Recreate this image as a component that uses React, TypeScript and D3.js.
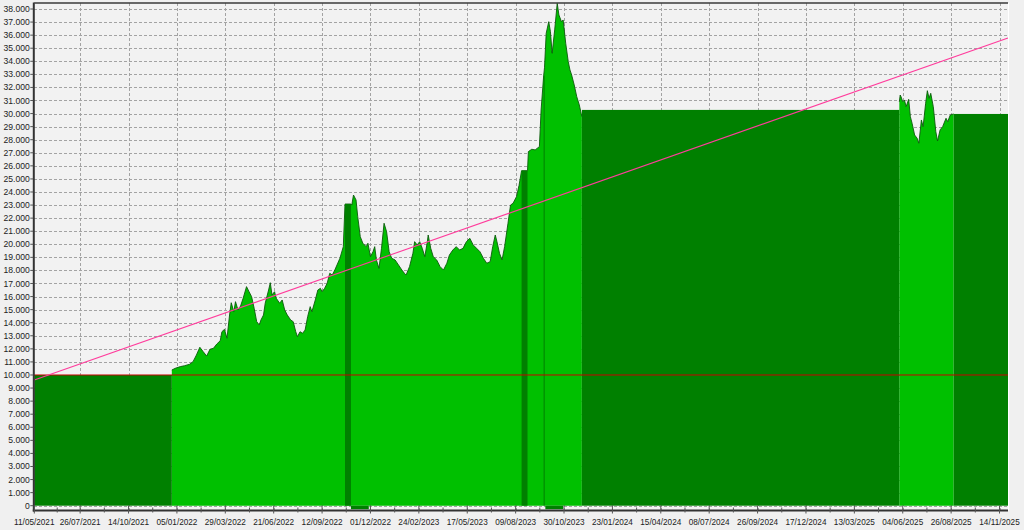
import React from "react";
import * as d3 from "d3";

// ---- data ----
const xTickLabels = [
  "11/05/2021", "26/07/2021", "14/10/2021", "05/01/2022", "29/03/2022", "21/06/2022",
  "12/09/2022", "01/12/2022", "24/02/2023", "17/05/2023", "09/08/2023", "30/10/2023",
  "23/01/2024", "15/04/2024", "08/07/2024", "26/09/2024", "17/12/2024", "13/03/2025",
  "04/06/2025", "26/08/2025", "14/11/2025",
];
// trading-day index of each date label
const xTickIdx = [0, 54, 111, 168, 225, 282, 339, 396, 453, 510, 567, 624, 681, 738, 795, 852, 909, 966, 1023, 1080, 1137];
const totalBars = 1147;

const yTickValues = d3.range(0, 39);

// flat (out of market) periods: dark green
const flatStart = [0, 366, 574, 600, 645, 1083];
const flatEnd = [162, 373, 581, 601, 1019, 1147];
const flatValue = [10.0, 23.08, 25.63, 32.9, 30.28, 29.97];

// small negative bands below zero
const negStart = [373, 602];
const negEnd = [394, 623];
const negValue = [-0.27, -0.27];

// equity curve, first in-market stretch
const curve1Idx = [162, 166, 172, 177, 183, 187, 191, 195, 199, 203, 207, 211, 215, 219, 221, 224, 227, 230, 232, 235, 237, 240, 243, 246, 250, 253, 256, 259, 262, 265, 267, 270, 272, 276, 278, 280, 283, 285, 289, 292, 295, 298, 302, 305, 308, 310, 313, 316, 319, 322, 325, 327, 331, 334, 337, 339, 342, 345, 348, 351, 354, 360, 364, 366, 373, 374, 376, 379, 381, 384, 387, 391, 393, 396, 399, 401, 403, 406, 409, 412, 415, 418, 421, 425, 429, 433, 436, 438, 442, 446, 448, 451, 454, 457, 460, 463, 464, 467, 470, 474, 478, 482, 486, 489, 493, 497, 501, 505, 509, 513, 517, 521, 525, 529, 533, 537, 540, 543, 545, 548, 551, 554, 558, 561, 564, 568, 571, 574, 581, 582, 586, 590, 595, 597, 600, 601, 603, 606, 608, 610, 613, 616, 618, 621, 623, 626, 629, 631, 633, 636, 639, 642, 645];
const curve1Val = [10.38, 10.51, 10.64, 10.71, 10.82, 11.02, 11.53, 12.12, 11.78, 11.45, 11.97, 12.04, 12.37, 12.62, 13.31, 13.49, 12.81, 14.59, 15.53, 14.84, 15.61, 14.97, 15.28, 15.87, 16.76, 16.37, 15.99, 15.10, 14.08, 13.83, 14.21, 14.59, 15.49, 16.50, 17.06, 16.12, 16.37, 15.87, 15.49, 15.74, 14.97, 14.59, 14.21, 14.08, 13.31, 12.93, 13.31, 13.19, 13.44, 14.46, 15.23, 14.84, 15.74, 16.50, 16.63, 16.37, 16.63, 17.02, 17.78, 17.65, 18.03, 18.93, 19.82, 23.08, 23.08, 23.0, 23.77, 23.39, 22.11, 20.58, 20.08, 19.82, 20.08, 19.05, 19.43, 19.82, 18.80, 18.16, 19.69, 21.61, 20.96, 19.43, 18.93, 18.80, 18.42, 18.03, 17.78, 17.65, 18.29, 19.31, 20.20, 19.95, 20.20, 19.69, 19.05, 20.20, 20.71, 19.69, 19.05, 18.80, 18.29, 18.03, 18.55, 19.18, 19.56, 19.82, 19.56, 19.69, 20.20, 20.46, 19.95, 19.69, 19.43, 18.93, 18.55, 18.67, 19.82, 20.71, 20.20, 19.31, 18.80, 19.82, 21.61, 23.0, 23.14, 23.64, 24.5, 25.63, 25.63, 27.09, 27.27, 27.22, 27.47, 30.28, 32.88, 33.5, 36.14, 37.03, 36.27, 34.61, 36.40, 38.44, 37.54, 37.03, 37.16, 35.38, 33.97, 33.34, 32.95, 32.19, 31.29, 30.66, 29.76];

// equity curve, second in-market stretch
const curve2Idx = [1019, 1020, 1021, 1023, 1025, 1027, 1030, 1032, 1034, 1037, 1040, 1042, 1045, 1047, 1050, 1052, 1054, 1056, 1059, 1062, 1064, 1067, 1070, 1074, 1076, 1079, 1083];
const curve2Val = [30.9, 31.42, 31.29, 30.91, 31.04, 30.53, 31.09, 29.76, 29.26, 28.36, 28.11, 27.73, 29.51, 29.0, 30.79, 31.75, 31.17, 31.55, 30.53, 28.61, 27.9, 28.75, 29.0, 29.64, 29.38, 29.89, 29.97];

const baseLevel = 10.0;
const trendStart = 9.62;
const trendEnd = 35.78;

// ---- layout ----
const W = 1024;
const H = 530;
const plotLeft = 34.3;
const plotRight = 1008;
const plotTop = 3;
const plotBottom = 510.5;

const FONT = "'Liberation Sans', Arial, sans-serif";

export default function App() {
  const x = d3.scaleLinear().domain([0, totalBars]).range([plotLeft, plotRight]);
  const y = d3.scaleLinear().domain([0, 38]).range([505.7, 9.0]);

  const curve1 = curve1Idx.map((i, k) => ({ i, v: curve1Val[k] }));
  const curve2 = curve2Idx.map((i, k) => ({ i, v: curve2Val[k] }));

  const area = d3
    .area<{ i: number; v: number }>()
    .x((d) => x(d.i))
    .y0(y(0))
    .y1((d) => y(d.v));
  const line = d3
    .line<{ i: number; v: number }>()
    .x((d) => x(d.i))
    .y((d) => y(d.v));

  const minorTicks: number[] = [];
  for (let k = 0; k < xTickIdx.length - 1; k++) minorTicks.push((xTickIdx[k] + xTickIdx[k + 1]) / 2);

  const fmt = (v: number) => (v === 0 ? "0" : `${v}.000`);

  return (
    <svg
      width={W}
      height={H}
      style={{ position: "absolute", left: 0, top: 0, display: "block" }}
      xmlns="http://www.w3.org/2000/svg"
    >
      <rect x={0} y={0} width={W} height={H} fill="#f0f0f0" />
      <rect x={plotLeft} y={plotTop} width={plotRight - plotLeft} height={plotBottom - plotTop} fill="#f2f2f2" />

      {/* grid */}
      <g stroke="#a3a3a3" strokeWidth={1} strokeDasharray="3,2" shapeRendering="crispEdges">
        {yTickValues.map((v) => (
          <line key={"gy" + v} x1={plotLeft} x2={plotRight} y1={Math.round(y(v)) + 0.5} y2={Math.round(y(v)) + 0.5} />
        ))}
        {xTickIdx.slice(1).map((i) => (
          <line key={"gx" + i} x1={Math.round(x(i)) + 0.5} x2={Math.round(x(i)) + 0.5} y1={plotTop} y2={plotBottom} />
        ))}
      </g>

      {/* in-market equity areas */}
      <path d={area(curve1) || ""} fill="#00c000" />
      <path d={area(curve2) || ""} fill="#00c000" />
      <path d={line(curve1) || ""} fill="none" stroke="#0b5a0b" strokeWidth={0.9} />
      <path d={line(curve2) || ""} fill="none" stroke="#0b5a0b" strokeWidth={0.9} />

      {/* flat periods */}
      {flatStart.map((s, k) => (
        <rect
          key={"f" + k}
          x={x(s)}
          y={y(flatValue[k])}
          width={Math.max(1, x(flatEnd[k]) - x(s))}
          height={y(0) - y(flatValue[k])}
          fill="#008000"
        />
      ))}
      {negStart.map((s, k) => (
        <rect
          key={"n" + k}
          x={x(s)}
          y={y(0)}
          width={x(negEnd[k]) - x(s)}
          height={y(negValue[k]) - y(0)}
          fill="#008000"
        />
      ))}

      {/* base level line */}
      <line x1={plotLeft} x2={plotRight} y1={y(baseLevel)} y2={y(baseLevel)} stroke="#c80000" strokeWidth={1} />

      {/* trend line */}
      <line
        x1={x(0)}
        x2={x(totalBars)}
        y1={y(trendStart)}
        y2={y(trendEnd)}
        stroke="#ff3c9c"
        strokeWidth={1.1}
      />

      {/* frame */}
      <line x1={plotLeft} x2={plotRight} y1={plotTop} y2={plotTop} stroke="#3a3a3a" strokeWidth={1.5} />
      <line x1={plotRight + 0.5} x2={plotRight + 0.5} y1={plotTop} y2={plotBottom} stroke="#ffffff" strokeWidth={1} />
      <line x1={plotLeft - 0.5} x2={plotLeft - 0.5} y1={plotTop - 0.5} y2={plotBottom + 1} stroke="#333" strokeWidth={2} />
      <line x1={plotLeft - 1.5} x2={plotRight} y1={plotBottom} y2={plotBottom} stroke="#333" strokeWidth={2} />

      {/* y axis */}
      <g fontFamily={FONT} fontSize={8.6} fill="#222">
        {yTickValues.map((v) => (
          <g key={"yt" + v}>
            <line x1={plotLeft - 4} x2={plotLeft - 1} y1={y(v)} y2={y(v)} stroke="#555" strokeWidth={1} />
            <text x={plotLeft - 4.5} y={y(v)} dy="0.35em" textAnchor="end">
              {fmt(v)}
            </text>
          </g>
        ))}
      </g>

      {/* x axis */}
      <g stroke="#555" strokeWidth={1}>
        {xTickIdx.map((i) => (
          <line key={"xt" + i} x1={x(i)} x2={x(i)} y1={plotBottom - 5} y2={plotBottom + 3} />
        ))}
        {minorTicks.map((i) => (
          <line key={"xm" + i} x1={x(i)} x2={x(i)} y1={plotBottom - 3} y2={plotBottom + 2} />
        ))}
      </g>
      <g fontFamily={FONT} fontSize={8.2} fill="#222">
        {xTickIdx.map((i, k) => (
          <text key={"xl" + i} x={x(i)} y={524.5} textAnchor="middle">
            {xTickLabels[k]}
          </text>
        ))}
      </g>
    </svg>
  );
}
